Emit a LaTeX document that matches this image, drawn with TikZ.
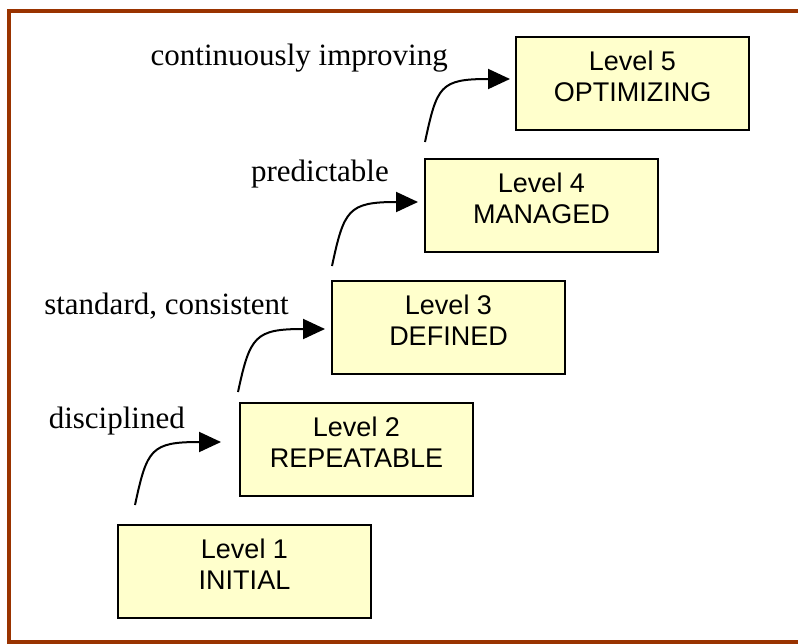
\documentclass[tikz,border=0pt]{standalone}
\usepackage{fontspec}
\setmainfont{Liberation Serif}
\newfontfamily\boxfont{Liberation Sans}
\usetikzlibrary{arrows.meta}
\definecolor{framebrown}{HTML}{993300}
\definecolor{levelfill}{HTML}{FFFFCC}
\begin{document}
\begin{tikzpicture}[x=1pt,y=-1pt,
  levelbox/.style={draw=black, line width=2pt, fill=levelfill, rectangle,
    minimum width=233pt, minimum height=93pt, inner sep=0pt},
  leveltext/.style={font=\boxfont\fontsize{27pt}{31pt}\selectfont, align=center, inner sep=0pt},
  trait/.style={font=\fontsize{31pt}{31pt}\selectfont, anchor=base east, inner sep=0pt},
  stepup/.style={draw=black, line width=2pt,
    -{Triangle[length=22pt,width=20pt]}}]
\useasboundingbox (0,0) rectangle (798,643);
\clip (0,0) rectangle (798,643);
% outer frame (right side runs off the page)
\draw[framebrown, line width=4pt] (9,11) rectangle (810,642);

% maturity levels
\node[levelbox, minimum width=253pt] (l1) at (244.5,571.5) {};
\node[levelbox] (l2) at (356.5,449.5) {};
\node[levelbox] (l3) at (448.5,327.5) {};
\node[levelbox] (l4) at (541.5,205.5) {};
\node[levelbox] (l5) at (632.5,83.5) {};

\node[leveltext] (t1) at ([yshift=7pt]l1.center) {Level 1\\INITIAL};
\node[leveltext] (t2) at ([yshift=7pt]l2.center) {Level 2\\REPEATABLE};
\node[leveltext] (t3) at ([yshift=7pt]l3.center) {Level 3\\DEFINED};
\node[leveltext] (t4) at ([yshift=7pt]l4.center) {Level 4\\MANAGED};
\node[leveltext] (t5) at ([yshift=7pt]l5.center) {Level 5\\OPTIMIZING};

% process characteristics
\node[trait] (c1) at (185,428) {disciplined};
\node[trait] (c2) at (289,314) {standard, consistent};
\node[trait] (c3) at (389,181) {predictable};
\node[trait] (c4) at (448,65) {continuously improving};

% arrow ends
\coordinate (s1) at ([xshift=18pt,yshift=19pt]l1.north west);
\coordinate (e1) at ([xshift=-18pt,yshift=7.5pt]l2.west);
\coordinate (s2) at ([xshift=-1pt,yshift=10pt]l2.north west);
\coordinate (e2) at ([xshift=-6pt,yshift=-1.5pt]l3.west);
\coordinate (s3) at ([xshift=1pt,yshift=14pt]l3.north west);
\coordinate (e3) at ([xshift=-6pt,yshift=3.5pt]l4.west);
\coordinate (s4) at ([xshift=1pt,yshift=16pt]l4.north west);
\coordinate (e4) at ([xshift=-5pt,yshift=4.5pt]l5.west);

\foreach \i in {1,...,4}{
  \draw[stepup] (s\i) .. controls +(12,-56) and +(-70,0) .. (e\i);
}
\end{tikzpicture}
\end{document}
